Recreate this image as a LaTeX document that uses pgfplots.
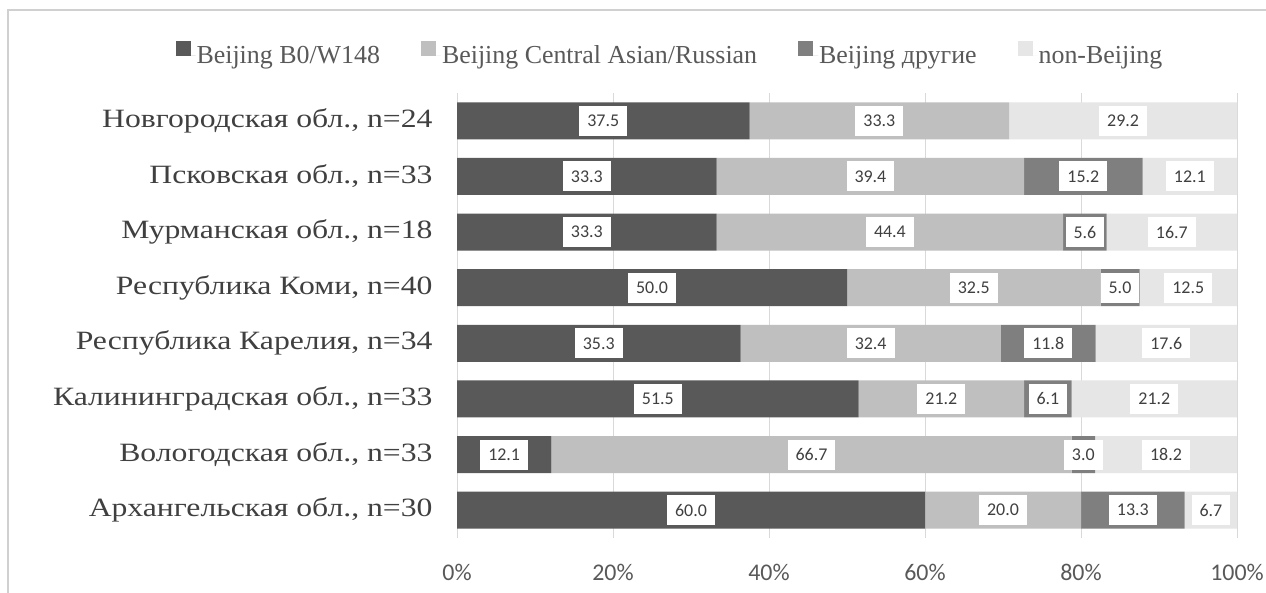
\documentclass[border=0pt]{standalone}
\usepackage{fontspec}
\setmainfont{Liberation Serif}
\newfontfamily\catfont[FakeStretch=1.2]{Liberation Serif}
\newfontfamily\calib{Carlito}
\usepackage{pgfplots}
\pgfplotsset{compat=1.18}
\usepackage{pgfplotstable}
\definecolor{cA}{HTML}{595959}
\definecolor{cB}{HTML}{BFBFBF}
\definecolor{cC}{HTML}{7F7F7F}
\definecolor{cD}{HTML}{E7E6E6}
\definecolor{gridc}{HTML}{D9D9D9}
\definecolor{framec}{HTML}{D0D0D0}
\definecolor{txt}{HTML}{595959}
\definecolor{lbl}{HTML}{404040}

% y: 0 Arkhangelsk ... 7 Novgorod; w = plotted share (100% stacked), lv = label
\pgfplotstableread{
y w lv
0 60.0 60.0
1 12.1 12.1
2 51.5 51.5
3 36.35 35.3
4 50.0 50.0
5 33.3 33.3
6 33.3 33.3
7 37.5 37.5
}\tA
\pgfplotstableread{
y w lv
0 20.0 20.0
1 66.7 66.7
2 21.2 21.2
3 33.37 32.4
4 32.5 32.5
5 44.4 44.4
6 39.4 39.4
7 33.3 33.3
}\tB
\pgfplotstableread{
y w lv
0 13.3 13.3
1 3.0 3.0
2 6.1 6.1
3 12.15 11.8
4 5.0 5.0
5 5.6 5.6
6 15.2 15.2
7 0.0 0.0
}\tC
\pgfplotstableread{
y w lv
0 6.7 6.7
1 18.2 18.2
2 21.2 21.2
3 18.13 17.6
4 12.5 12.5
5 16.7 16.7
6 12.1 12.1
7 29.2 29.2
}\tD

\pgfplotsset{sqlegend/.style={legend image code/.code={\fill[##1] (0bp,0bp) rectangle (15bp,15bp); \path (0bp,0bp) -- (20bp,0bp);}}}

\begin{document}
\begin{tikzpicture}
\useasboundingbox (0,0) rectangle (1266bp,593bp);
\fill[white] (0,0) rectangle (1266bp,593bp);
\draw[framec, line width=1.5bp] (8bp,-5bp) -- (8bp,583bp) -- (1275bp,583bp);
\begin{axis}[
  at={(457bp,55bp)}, anchor=south west,
  scale only axis, width=780bp, height=445bp,
  xbar stacked, bar width=37bp,
  xmin=0, xmax=100, ymin=-0.5, ymax=7.5,
  xtick={0,20,40,60,80,100},
  xticklabels={0\%,20\%,40\%,60\%,80\%,100\%},
  ytick={0,1,2,3,4,5,6,7},
  yticklabels={{Архангельская обл., n=30},{Вологодская обл., n=33},{Калининградская обл., n=33},{Республика Карелия, n=34},{Республика Коми, n=40},{Мурманская обл., n=18},{Псковская обл., n=33},{Новгородская обл., n=24}},
  axis line style={draw=none}, major tick length=0pt,
  xmajorgrids, grid style={gridc, line width=1bp},
  xticklabel style={font=\calib\fontsize{24}{24}\selectfont, text=txt, yshift=-23bp},
  yticklabel style={font=\catfont\fontsize{26.5}{26.5}\selectfont, text=lbl, xshift=-21bp},
  visualization depends on={\thisrow{lv} \as \lv},
  nodes near coords={\pgfmathprintnumber[fixed,fixed zerofill,precision=1,assume math mode=true]{\lv}},
  nodes near coords align={anchor=center},
  every node near coord/.append style={
    font=\calib\fontsize{18}{18}\selectfont, text=lbl, fill=white,
    inner xsep=8bp, inner ysep=0bp, minimum height=30bp, anchor=center,
    /utils/exec={\pgfmathparse{\lv>0.05 ? 1 : 0}\let\nnop\pgfmathresult},
    opacity=\nnop},
  legend style={at={(0.2724,1.0876)}, anchor=center, draw=none, fill=none,
    legend columns=4, font=\fontsize{26}{26}\selectfont, text=txt,
    nodes={inner xsep=1bp},
    /tikz/every even column/.append style={column sep=40bp}},
]
\addplot[fill=cA, draw=none, sqlegend] table[x=w, y=y] {\tA};
\addplot[fill=cB, draw=none, sqlegend] table[x=w, y=y] {\tB};
\addplot[fill=cC, draw=none, sqlegend] table[x=w, y=y] {\tC};
\addplot[fill=cD, draw=none, sqlegend] table[x=w, y=y] {\tD};
\legend{Beijing B0/W148, Beijing Central Asian/Russian, Beijing другие, non-Beijing}
\end{axis}
\end{tikzpicture}
\end{document}
